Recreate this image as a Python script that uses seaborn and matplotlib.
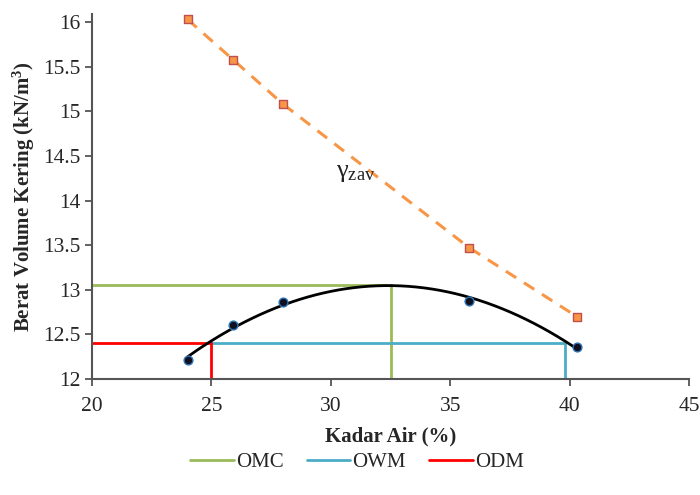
import numpy as np
import pandas as pd
import matplotlib
matplotlib.use("Agg")
import matplotlib.pyplot as plt
from matplotlib.lines import Line2D
import seaborn as sns

# Compaction test results
kadar_air = [24.0, 25.9, 28.0, 35.8, 40.3]          # water content (%)
berat_kering = [12.21, 12.60, 12.86, 12.87, 12.36]  # dry unit weight (kN/m3)
gamma_zav = [16.03, 15.58, 15.08, 13.47, 12.70]     # zero air void line (kN/m3)

# Reference values
omc = 32.5          # optimum moisture content (%)
gamma_max = 13.05   # maximum dry unit weight
odm = 25.0          # dry side moisture
owm = 39.8          # wet side moisture
gamma_ref = 12.40   # reference dry unit weight

x_ticks = [20, 25, 30, 35, 40, 45]
y_ticks = [12, 12.5, 13, 13.5, 14, 14.5, 15, 15.5, 16]
y_tick_labels = ["12", "12.5", "13", "13.5", "14", "14.5", "15", "15.5", "16"]

sns.set_theme(style="white")
plt.rcParams["font.family"] = ["Liberation Serif", "DejaVu Serif"]
plt.rcParams["mathtext.fontset"] = "custom"
plt.rcParams["mathtext.rm"] = "Liberation Serif"
plt.rcParams["mathtext.it"] = "Liberation Serif:italic"
plt.rcParams["mathtext.bf"] = "Liberation Serif:bold"

df = pd.DataFrame({"w": kadar_air, "gd": berat_kering, "zav": gamma_zav})

fig = plt.figure(figsize=(7.0, 4.95), dpi=100)
ax = fig.add_axes([0.1314, 0.2343, 0.853, 0.7374])

col_omc = "#9BBB59"
col_owm = "#4BACC6"
col_odm = "#FF0000"

# OMC / OWM / ODM guide lines
ax.plot([20, omc], [gamma_max, gamma_max], color=col_omc, lw=2, zorder=2)
ax.plot([omc, omc], [12, gamma_max], color=col_omc, lw=2, zorder=2)
ax.plot([odm, owm], [gamma_ref, gamma_ref], color=col_owm, lw=2, zorder=2)
ax.plot([owm, owm], [12, gamma_ref], color=col_owm, lw=2, zorder=2)
ax.plot([20, odm], [gamma_ref, gamma_ref], color=col_odm, lw=2, zorder=2)
ax.plot([odm, odm], [12, gamma_ref], color=col_odm, lw=2, zorder=2)

# Zero air void line
sns.lineplot(data=df, x="w", y="zav", ax=ax, color="#F79646", lw=2.2,
             linestyle=(0, (4, 3)), zorder=3)
sns.scatterplot(data=df, x="w", y="zav", ax=ax, marker="s", s=32,
                color="#F79646", edgecolor="#C0504D", linewidth=1, zorder=4)

# Quadratic trend of the compaction curve
coef = np.polyfit(df["w"], df["gd"], 2)
xs = np.linspace(df["w"].min(), df["w"].max(), 200)
fit = pd.DataFrame({"w": xs, "gd": np.polyval(coef, xs)})
sns.lineplot(data=fit, x="w", y="gd", ax=ax, color="black", lw=2, zorder=5)
sns.scatterplot(data=df, x="w", y="gd", ax=ax, marker="o", s=40,
                color="#101020", edgecolor="#2E75B6", linewidth=1, zorder=6)

ax.text(30.2, 14.31, r"$\mathrm{γ_{zav}}$", fontsize=19, color="#222222",
        ha="left", va="center")

ax.set_xlim(20, 45)
ax.set_ylim(12, 16.09)
ax.set_xticks(x_ticks)
ax.set_xticklabels([str(t) for t in x_ticks])
ax.set_yticks(y_ticks)
ax.set_yticklabels(y_tick_labels)

for side in ["top", "right"]:
    ax.spines[side].set_visible(False)
for side in ["left", "bottom"]:
    ax.spines[side].set_color("#555555")
    ax.spines[side].set_linewidth(1.5)
ax.tick_params(axis="both", which="both", direction="out", length=5, width=1.3,
               color="#555555", labelsize=15.5, left=True, bottom=True)
ax.tick_params(axis="x", pad=8)
ax.tick_params(axis="y", pad=3)

ax.set_xlabel("Kadar Air (%)", fontsize=15, fontweight="bold")
ax.xaxis.set_label_coords(0.5, -0.13)
ax.set_ylabel(r"Berat Volume Kering (kN/m$^{\mathbf{3}}$)", fontsize=15,
              fontweight="bold")
ax.yaxis.set_label_coords(-0.092, 0.5)

handles = [Line2D([], [], color=col_omc, lw=2),
           Line2D([], [], color=col_owm, lw=2),
           Line2D([], [], color=col_odm, lw=2)]
fig.legend(handles, ["OMC", "OWM", "ODM"], loc="center", ncol=3,
           bbox_to_anchor=(0.51, 0.066), frameon=False, fontsize=15,
           handlelength=2.1, handletextpad=0.1, columnspacing=1.1)

fig.savefig("out.png", dpi=100)
